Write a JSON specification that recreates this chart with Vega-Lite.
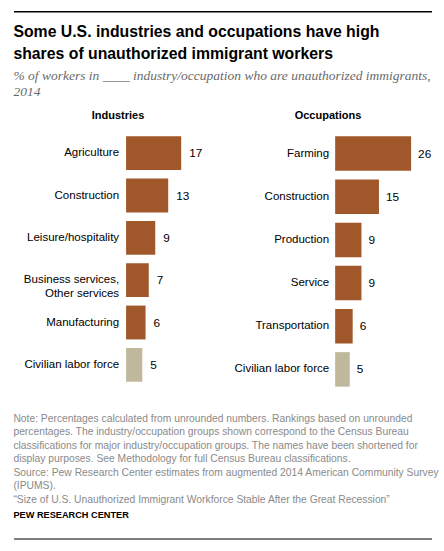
{
  "$schema": "https://vega.github.io/schema/vega-lite/v6.json",
  "padding": {"left": 13, "top": 11, "right": 13, "bottom": 5},
  "background": "white",
  "config": {
    "view": {"stroke": null},
    "font": "Liberation Sans"
  },
  "datasets": {
    "industries": [
      {"group": "Agriculture", "pct": 17, "kind": "sector"},
      {"group": "Construction", "pct": 13, "kind": "sector"},
      {"group": "Leisure/hospitality", "pct": 9, "kind": "sector"},
      {"group": "Business services,\nOther services", "pct": 7, "kind": "sector"},
      {"group": "Manufacturing", "pct": 6, "kind": "sector"},
      {"group": "Civilian labor force", "pct": 5, "kind": "total"}
    ],
    "occupations": [
      {"group": "Farming", "pct": 26, "kind": "sector"},
      {"group": "Construction", "pct": 15, "kind": "sector"},
      {"group": "Production", "pct": 9, "kind": "sector"},
      {"group": "Service", "pct": 9, "kind": "sector"},
      {"group": "Transportation", "pct": 6, "kind": "sector"},
      {"group": "Civilian labor force", "pct": 5, "kind": "total"}
    ],
    "rule": [{"from": 0, "to": 1, "level": 0}]
  },
  "spacing": 11,
  "vconcat": [
    {
      "data": {"name": "rule"},
      "width": 418,
      "height": 1,
      "view": {"fill": "#000000", "stroke": null},
      "title": {
        "text": ["Some U.S. industries and occupations have high", "shares of unauthorized  immigrant workers"],
        "subtitle": ["% of workers in ____ industry/occupation who are unauthorized immigrants,", "2014"],
        "orient": "bottom",
        "anchor": "start",
        "offset": 12,
        "font": "Liberation Sans",
        "fontSize": 15.8,
        "fontWeight": "bold",
        "color": "#000000",
        "lineHeight": 22,
        "subtitleFont": "Liberation Serif",
        "subtitleFontStyle": "italic",
        "subtitleFontSize": 13.5,
        "subtitleColor": "#6a6a6a",
        "subtitleLineHeight": 16,
        "subtitlePadding": 7
      },
      "mark": {"type": "rule", "color": "#000000", "strokeWidth": 1.2},
      "encoding": {
        "x": {"field": "from", "type": "quantitative", "scale": {"domain": [0, 1]}, "axis": null},
        "x2": {"field": "to"},
        "y": {"field": "level", "type": "quantitative", "scale": {"domain": [0, 1]}, "axis": null}
      }
    },
    {
      "spacing": 22,
      "vconcat": [
        {
          "spacing": 8,
          "hconcat": [
            {
              "data": {"name": "industries"},
              "width": 208,
              "height": 254,
              "title": {"text": "Industries", "fontSize": 11, "fontWeight": "bold", "color": "#000000", "anchor": "middle", "offset": 11},
              "encoding": {
                "y": {
                  "field": "group", "type": "nominal", "sort": null,
                  "scale": {"paddingInner": 0.2, "paddingOuter": 0.1},
                  "axis": null
                },
                "x": {"field": "pct", "type": "quantitative", "scale": {"domain": [-34.6, 29.6]}, "axis": null}
              },
              "layer": [
                {
                  "mark": {"type": "bar"},
                  "encoding": {
                    "color": {"field": "kind", "type": "nominal", "scale": {"domain": ["sector", "total"], "range": ["#a0582a", "#bfb89d"]}, "legend": null}
                  }
                },
                {
                  "mark": {"type": "text", "align": "left", "dx": 8, "fontSize": 11.8, "color": "#000000"},
                  "encoding": {"text": {"field": "pct", "type": "quantitative"}}
                },
                {
                  "mark": {"type": "text", "align": "right", "dx": -7, "fontSize": 11.5, "color": "#000000", "lineBreak": "\n", "lineHeight": 13.5},
                  "encoding": {"x": {"datum": 0}, "text": {"field": "group"}}
                }
              ]
            },
            {
              "data": {"name": "occupations"},
              "width": 196,
              "height": 259,
              "title": {"text": "Occupations", "fontSize": 11, "fontWeight": "bold", "color": "#000000", "anchor": "middle", "offset": 11},
              "encoding": {
                "y": {
                  "field": "group", "type": "nominal", "sort": null,
                  "scale": {"paddingInner": 0.2, "paddingOuter": 0.1},
                  "axis": null
                },
                "x": {"field": "pct", "type": "quantitative", "scale": {"domain": [-36, 31.1]}, "axis": null}
              },
              "layer": [
                {
                  "mark": {"type": "bar"},
                  "encoding": {
                    "color": {"field": "kind", "type": "nominal", "scale": {"domain": ["sector", "total"], "range": ["#a0582a", "#bfb89d"]}, "legend": null}
                  }
                },
                {
                  "mark": {"type": "text", "align": "left", "dx": 7, "fontSize": 11.8, "color": "#000000"},
                  "encoding": {"text": {"field": "pct", "type": "quantitative"}}
                },
                {
                  "mark": {"type": "text", "align": "right", "dx": -6, "fontSize": 11.5, "color": "#000000"},
                  "encoding": {"x": {"datum": 0}, "text": {"field": "group"}}
                }
              ]
            }
          ],
          "resolve": {"scale": {"color": "independent"}}
        },
        {
          "data": {"name": "rule"},
          "width": 418,
          "height": 1,
          "title": {
            "text": [
              "Note: Percentages calculated from unrounded numbers. Rankings based on unrounded",
              "percentages. The industry/occupation groups shown correspond to the Census Bureau",
              "classifications for major industry/occupation groups. The names have been shortened for",
              "display purposes. See Methodology for full Census Bureau classifications.",
              "Source: Pew Research Center estimates from augmented 2014 American Community Survey",
              "(IPUMS).",
              "\u201cSize of U.S. Unauthorized Immigrant Workforce Stable After the Great Recession\u201d"
            ],
            "subtitle": "PEW RESEARCH CENTER",
            "orient": "top",
            "anchor": "start",
            "offset": 18,
            "fontSize": 10.3,
            "fontWeight": "normal",
            "color": "#8a8a8a",
            "lineHeight": 13.5,
            "subtitleFontSize": 9.2,
            "subtitleFontWeight": "bold",
            "subtitleColor": "#000000",
            "subtitlePadding": 6
          },
          "mark": {"type": "rule", "color": "#000000", "strokeWidth": 1.2},
          "encoding": {
            "x": {"field": "from", "type": "quantitative", "scale": {"domain": [0, 1]}, "axis": null},
            "x2": {"field": "to"},
            "y": {"field": "level", "type": "quantitative", "scale": {"domain": [0, 1]}, "axis": null}
          }
        }
      ]
    }
  ]
}
